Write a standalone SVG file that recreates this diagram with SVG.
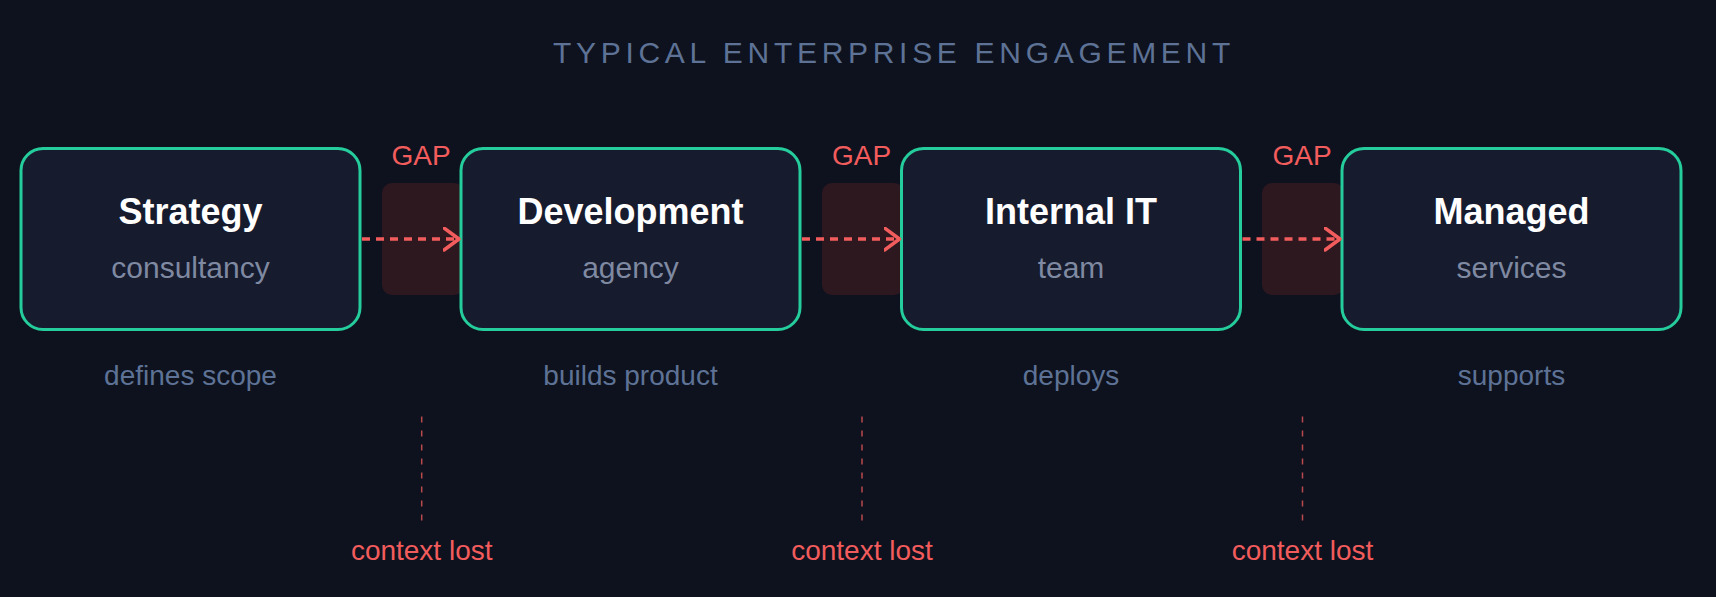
<svg xmlns="http://www.w3.org/2000/svg" width="1716" height="597" viewBox="0 0 1716 597">
<defs>
<style>
.bg{fill:#0d121e}
.box{fill:#161b2e;stroke:#25cc9c;stroke-width:3}
.gaprect{fill:#2d1820}
.title{font-family:"Liberation Sans",Arial,sans-serif;font-size:30px;fill:#5e7296;letter-spacing:4.7px}
.name{font-family:"Liberation Sans",Arial,sans-serif;font-size:36px;font-weight:bold;fill:#ffffff;text-anchor:middle}
.sub{font-family:"Liberation Sans",Arial,sans-serif;font-size:30px;fill:#7f89a1;text-anchor:middle}
.role{font-family:"Liberation Sans",Arial,sans-serif;font-size:28px;fill:#5e7296;text-anchor:middle}
.gap{font-family:"Liberation Sans",Arial,sans-serif;font-size:28px;fill:#f25c5c;text-anchor:middle}
.lost{font-family:"Liberation Sans",Arial,sans-serif;font-size:28px;fill:#f25c5c;text-anchor:middle}
.arrow{stroke:#f25c5c;stroke-width:3.5;stroke-dasharray:8 6;fill:none}
.vdash{stroke:#f25c5c;stroke-opacity:0.75;stroke-width:1.5;stroke-dasharray:6 8;fill:none}
</style>
<marker id="chev" markerUnits="userSpaceOnUse" markerWidth="20" markerHeight="28" refX="16" refY="12" orient="auto">
<path d="M1,1 L16,12 L1,23" fill="none" stroke="#f25c5c" stroke-width="3.5" stroke-linecap="round" stroke-linejoin="round"/>
</marker>
</defs>
<rect class="bg" x="0" y="0" width="1716" height="597"/>
<text class="title" x="553" y="63">TYPICAL ENTERPRISE ENGAGEMENT</text>

<g id="gaps">
<rect class="gaprect" x="382" y="183" width="82" height="112" rx="10"/>
<rect class="gaprect" x="822" y="183" width="82" height="112" rx="10"/>
<rect class="gaprect" x="1262" y="183" width="82" height="112" rx="10"/>
<text class="gap" x="421" y="165">GAP</text>
<text class="gap" x="861.5" y="165">GAP</text>
<text class="gap" x="1302" y="165">GAP</text>
</g>

<g id="node-strategy">
<rect class="box" x="21" y="148.5" width="339" height="181" rx="22"/>
<text class="name" x="190.5" y="224">Strategy</text>
<text class="sub" x="190.5" y="278">consultancy</text>
<text class="role" x="190.5" y="385">defines scope</text>
</g>
<g id="node-development">
<rect class="box" x="461" y="148.5" width="339" height="181" rx="22"/>
<text class="name" x="630.5" y="224">Development</text>
<text class="sub" x="630.5" y="278">agency</text>
<text class="role" x="630.5" y="385">builds product</text>
</g>
<g id="node-internal-it">
<rect class="box" x="901.5" y="148.5" width="339" height="181" rx="22"/>
<text class="name" x="1071" y="224">Internal IT</text>
<text class="sub" x="1071" y="278">team</text>
<text class="role" x="1071" y="385">deploys</text>
</g>
<g id="node-managed">
<rect class="box" x="1342" y="148.5" width="339" height="181" rx="22"/>
<text class="name" x="1511.5" y="224">Managed</text>
<text class="sub" x="1511.5" y="278">services</text>
<text class="role" x="1511.5" y="385">supports</text>
</g>

<g id="connectors">
<line class="arrow" x1="362" y1="239" x2="459" y2="239" marker-end="url(#chev)"/>
<line class="arrow" x1="802" y1="239" x2="899.5" y2="239" marker-end="url(#chev)"/>
<line class="arrow" x1="1242.5" y1="239" x2="1340" y2="239" marker-end="url(#chev)"/>
<line class="vdash" x1="421.7" y1="416.5" x2="421.7" y2="522"/>
<line class="vdash" x1="862" y1="416.5" x2="862" y2="522"/>
<line class="vdash" x1="1302.5" y1="416.5" x2="1302.5" y2="522"/>
</g>

<g id="lost-labels">
<text class="lost" x="421.7" y="560">context lost</text>
<text class="lost" x="862" y="560">context lost</text>
<text class="lost" x="1302.5" y="560">context lost</text>
</g>
</svg>
